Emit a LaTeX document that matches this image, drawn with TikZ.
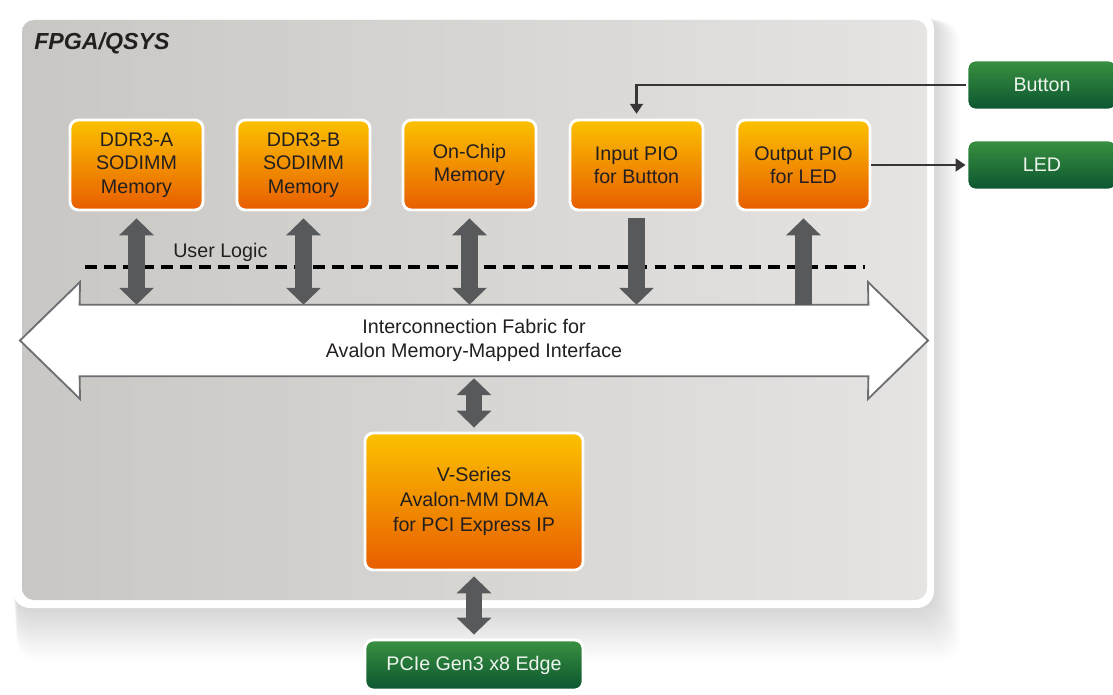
\documentclass[tikz,border=0pt]{standalone}
\usepackage{fontspec}
\setmainfont{Liberation Sans}
\usetikzlibrary{arrows.meta,shadows}

\definecolor{orangetop}{HTML}{FBC100}
\definecolor{orangebot}{HTML}{E85D00}
\definecolor{greentop}{HTML}{3A9140}
\definecolor{greenbot}{HTML}{0B5530}
\definecolor{panelhi}{HTML}{E6E4E2}
\definecolor{panello}{HTML}{C9C7C4}
\definecolor{pipegray}{HTML}{58595B}
\definecolor{busline}{HTML}{6D6E71}
\definecolor{inktext}{HTML}{231F20}
\definecolor{paletext}{HTML}{EEF4EE}

\tikzset{
  lbl/.style={text=inktext, font=\fontsize{14}{16.6}\selectfont},
  ipblock/.style={lbl, draw=white, line width=2pt, rounded corners=6pt,
    top color=orangetop, bottom color=orangebot, align=center,
    minimum width=3.325cm, minimum height=2.25cm,
    drop shadow={shadow xshift=0.6pt, shadow yshift=-0.8pt, opacity=0.25}},
  extblock/.style={lbl, text=paletext, draw=white, line width=2pt, rounded corners=6pt,
    top color=greentop, bottom color=greenbot, align=center,
    minimum width=3.75cm, minimum height=1.25cm,
    drop shadow={shadow xshift=0.6pt, shadow yshift=-0.8pt, opacity=0.25}},
  pipe/.style={draw=pipegray, line width=11.5pt, >={Triangle[width=24pt,length=12pt]}},
  sig/.style={draw=inktext!90, line width=1.6pt, -{Triangle[width=9pt,length=7pt]}},
  busedge/.style={draw=busline, fill=white, line width=1.3pt, line join=miter},
  userline/.style={draw=black, line width=2.8pt, dash pattern=on 8.5pt off 5pt}
}

\begin{document}
\begin{tikzpicture}[x=0.025cm,y=-0.025cm]
\useasboundingbox (0,0) rectangle (1113,695);

% panel with soft shadow
\foreach \s in {1,...,20}
  \fill[black, opacity=0.009, rounded corners=14pt] (13+\s*0.2,14+\s*0.4) rectangle (934+\s*1.3,608+\s*2.6);
\fill[white, rounded corners=12pt] (13,12) rectangle (934,608);
\shade[rounded corners=8.5pt, left color=panello, right color=panelhi] (22,20) rectangle (927,600);
\node[anchor=base west, inner sep=0, text=inktext, font=\bfseries\itshape\fontsize{16.5}{19}\selectfont] (title) at (34,50) {FPGA/QSYS};

% blocks
\node[ipblock] (ddra) at (136.5,165) {DDR3-A\\SODIMM\\Memory};
\node[ipblock] (ddrb) at (303.5,165) {DDR3-B\\SODIMM\\Memory};
\node[ipblock] (onchip) at (469.5,165) {On-Chip\\Memory};
\node[ipblock] (inpio) at (636.5,165) {Input PIO\\for Button};
\node[ipblock] (outpio) at (803.5,165) {Output PIO\\for LED};
\node[ipblock, minimum width=5.45cm, minimum height=3.425cm, font=\fontsize{14}{17.5}\selectfont] (dma) at (474,501.5) {V-Series\\Avalon-MM DMA\\for PCI Express IP};

\node[extblock] (button) at (1042,85) {Button};
\node[extblock] (led) at (1042,165) {LED};
\node[extblock, minimum width=5.45cm] (pcie) at (474,665) {PCIe Gen3 x8 Edge};

% user logic border
\draw[userline] (85,267) -- (865,267);
\node[lbl, anchor=base west, inner sep=0] (ulogic) at (173,258) {User Logic};

% fabric
\node[minimum width=19.7cm, minimum height=1.775cm, inner sep=0] (bus) at (474,340.5) {};
\draw[busedge] (bus.north west) -- (bus.north east) -- (868,282) -- (928,340.5) -- (868,399)
  -- (bus.south east) -- (bus.south west) -- (80,399) -- (20,340.5) -- (80,282) -- cycle;
\node[lbl, align=center, font=\fontsize{14}{17}\selectfont] (fabric) at (bus.center) {Interconnection Fabric for\\Avalon Memory-Mapped Interface};

% links
\foreach \n in {ddra,ddrb,onchip}
  \draw[pipe,<->] ([yshift=-0.175cm]\n.south) -- (\n.south |- bus.north);
\draw[pipe,->] ([yshift=-0.175cm]inpio.south) -- (inpio.south |- bus.north);
\draw[pipe,<-] ([yshift=-0.175cm]outpio.south) -- (outpio.south |- bus.north);
\draw[pipe,<->] ([yshift=-0.05cm]bus.south) -- ([yshift=0.1cm]dma.north);
\draw[pipe,<->] ([yshift=-0.125cm]dma.south) -- ([yshift=0.1cm]pcie.north);

\draw[sig] (button.west) -| ([yshift=0.12cm]inpio.north);
\draw[sig] (outpio.east) -- (led.west);
\end{tikzpicture}
\end{document}
